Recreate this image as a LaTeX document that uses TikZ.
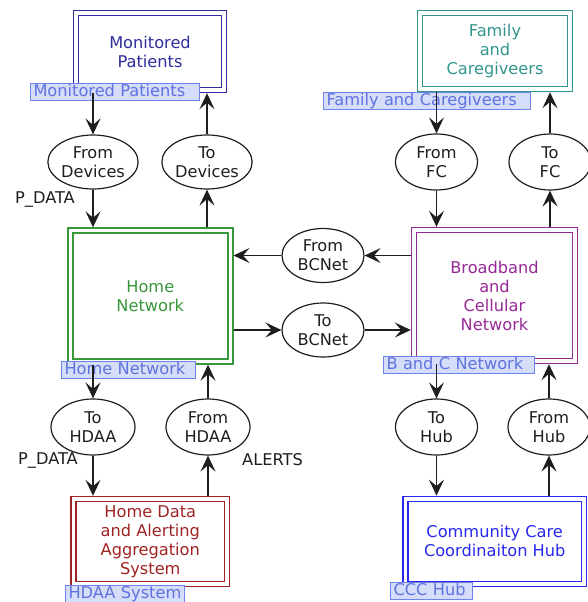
\documentclass[tikz,border=0pt]{standalone}
\usepackage{fontspec}
\setmainfont{DejaVu Sans}
\usetikzlibrary{arrows.meta,shapes.geometric}
\definecolor{cnavy}{RGB}{45,45,155}
\definecolor{cteal}{RGB}{50,150,140}
\definecolor{cgreen}{RGB}{55,150,55}
\definecolor{cpurple}{RGB}{150,40,150}
\definecolor{cred}{RGB}{160,35,35}
\definecolor{cblue}{RGB}{40,40,240}
\definecolor{tagtext}{RGB}{95,115,222}
\definecolor{tagfill}{RGB}{214,221,250}
\definecolor{tagdraw}{RGB}{110,130,235}
\definecolor{ink}{RGB}{30,30,30}
\tikzset{
  txt/.style={font=\fontsize{16.2}{19}\selectfont},
  sysbox/.style={txt, rectangle, draw=#1, text=#1, double=white, line width=1.6pt,
    double distance=3.4pt, align=center, inner sep=0pt, outer sep=3.2pt},
  flow/.style={txt, ellipse, draw=ink, text=ink, line width=1.2pt, align=center, inner sep=0pt,
    minimum width=#1},
  tag/.style={txt, rectangle, draw=tagdraw, fill=tagfill, text=tagtext, line width=1pt,
    anchor=north west, align=left, inner xsep=3pt, inner ysep=0.4pt, text height=12.3pt, text depth=3.5pt},
  arr/.style={-{Stealth[length=16pt,width=15pt,inset=6.5pt]}, line width=1.2pt, draw=ink},
  lbl/.style={txt, text=ink}
}
\begin{document}
\begin{tikzpicture}[x=1pt,y=-1pt]
\useasboundingbox (0,0) rectangle (588,602);
% system boxes
\node[sysbox=cnavy, minimum width=148pt, minimum height=77pt] (MP) at (150,51.5) {Monitored\\Patients};
\node[sysbox=cteal, minimum width=150pt, minimum height=76pt] (FC) at (495,51) {Family\\and\\Caregiveers};
\node[sysbox=cgreen, minimum width=160pt, minimum height=131pt] (HN) at (150.3,296) {Home\\Network};
\node[sysbox=cpurple, minimum width=161pt, minimum height=131pt] (BC) at (494.5,295.5) {Broadband\\and\\Cellular\\Network};
\node[sysbox=cred, minimum width=153.5pt, minimum height=85pt] (HD) at (150.3,541.5) {Home Data\\and Alerting\\Aggregation\\System};
\node[sysbox=cblue, minimum width=178.5pt, minimum height=85pt] (CC) at (494.7,541.3) {Community Care\\Coordinaiton Hub};
% tags
\node[tag, text width=163pt] (tMP) at (30,83) {Monitored Patients};
\node[tag, text width=201pt] (tFC) at (323,92) {Family and Caregiveers};
\node[tag, text width=128pt] (tHN) at (61,361) {Home Network};
\node[tag, text width=145pt] (tBC) at (383,356) {B and C Network};
\node[tag, text width=113pt] (tHD) at (65,585) {HDAA System};
\node[tag, text width=76pt] (tCC) at (390,582) {CCC Hub};
% flow ellipses
\node[flow=90pt, minimum height=54pt] (FD) at (93,162) {From\\Devices};
\node[flow=90pt, minimum height=54pt] (TD) at (207,162) {To\\Devices};
\node[flow=82pt, minimum height=56pt] (FF) at (436.5,162) {From\\FC};
\node[flow=82pt, minimum height=56pt] (TF) at (550,162) {To\\FC};
\node[flow=82pt, minimum height=54pt] (FB) at (323,255.5) {From\\BCNet};
\node[flow=82pt, minimum height=54pt] (TB) at (323,330) {To\\BCNet};
\node[flow=84pt, minimum height=56pt] (TH) at (93,427) {To\\HDAA};
\node[flow=84pt, minimum height=56pt] (FH) at (208,427) {From\\HDAA};
\node[flow=82pt, minimum height=56pt] (TU) at (436.5,427) {To\\Hub};
\node[flow=82pt, minimum height=56pt] (FU) at (549,427) {From\\Hub};
% connectors
\draw[arr] (FD |- MP.south) -- (FD.north);
\draw[arr] (FD.south) -- (FD |- HN.north);
\draw[arr] (TD |- HN.north) -- (TD.south);
\draw[arr] (TD.north) -- (TD |- MP.south);
\draw[arr] (FF |- FC.south) -- (FF.north);
\draw[arr] (FF.south) -- (FF |- BC.north);
\draw[arr] (TF |- BC.north) -- (TF.south);
\draw[arr] (TF.north) -- (TF |- FC.south);
\draw[arr] (BC.west |- FB) -- (FB.east);
\draw[arr] (FB.west) -- (HN.east |- FB);
\draw[arr] (HN.east |- TB) -- (TB.west);
\draw[arr] (TB.east) -- (BC.west |- TB);
\draw[arr] (TH |- HN.south) -- (TH.north);
\draw[arr] (TH.south) -- (TH |- HD.north);
\draw[arr] (FH |- HD.north) -- (FH.south);
\draw[arr] (FH.north) -- (FH |- HN.south);
\draw[arr] (TU |- BC.south) -- (TU.north);
\draw[arr] (TU.south) -- (TU |- CC.north);
\draw[arr] (FU |- CC.north) -- (FU.south);
\draw[arr] (FU.north) -- (FU |- BC.south);
% flow labels
\node[lbl] (l1) at (45,199.5) {P\_DATA};
\node[lbl] (l2) at (48,460) {P\_DATA};
\node[lbl] (l3) at (272.5,460) {ALERTS};
\end{tikzpicture}
\end{document}
